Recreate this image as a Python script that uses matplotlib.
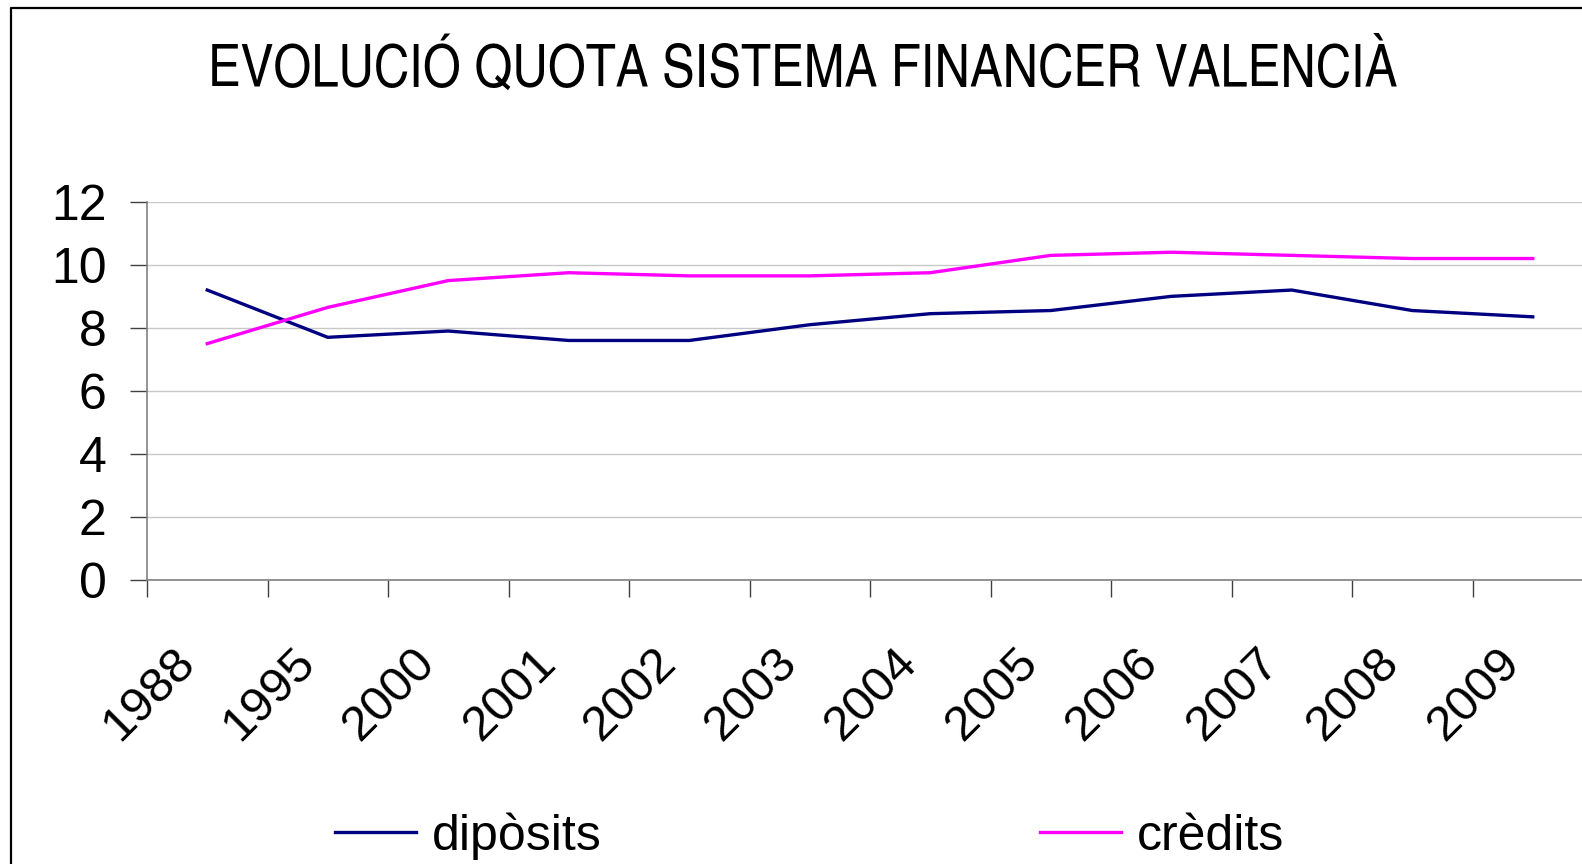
import matplotlib
matplotlib.use("Agg")
import matplotlib.pyplot as plt
import matplotlib.transforms as mtransforms
from matplotlib.lines import Line2D

years = ["1988", "1995", "2000", "2001", "2002", "2003", "2004", "2005", "2006", "2007", "2008", "2009"]
diposits = [9.2, 7.7, 7.9, 7.6, 7.6, 8.1, 8.45, 8.55, 9.0, 9.2, 8.55, 8.35]
credits = [7.5, 8.65, 9.5, 9.75, 9.65, 9.65, 9.75, 10.3, 10.4, 10.3, 10.2, 10.2]
yticks = [0, 2, 4, 6, 8, 10, 12]

title = "EVOLUCIÓ QUOTA SISTEMA FINANCER VALENCIÀ"
label_dip = "dipòsits"
label_cre = "crèdits"

plt.rcParams['font.family'] = ['Liberation Sans', 'DejaVu Sans']

W, H = 1582, 864
fig = plt.figure(figsize=(W / 100, H / 100), dpi=100)
fig.patch.set_facecolor("white")

# outer chart border (top and left visible)
fig.add_artist(Line2D([10.5 / W, 10.5 / W, 1.0], [0.0, 1 - 8 / H, 1 - 8 / H],
                      transform=fig.transFigure, color="black", lw=1.6))

left, right, top, bottom = 147, 1593, 201.8, 580
ax = fig.add_axes([left / W, 1 - bottom / H, (right - left) / W, (bottom - top) / H])

x = list(range(len(years)))
ax.plot(x, diposits, color="#000080", lw=2.4, label=label_dip, solid_joinstyle="round")
ax.plot(x, credits, color="#FF00FF", lw=2.4, label=label_cre, solid_joinstyle="round")

ax.set_xlim(-0.5, len(years) - 0.5)
ax.set_ylim(0, 12)
ax.set_yticks(yticks)
ax.set_yticklabels([str(v) for v in yticks])
ax.grid(axis="y", color="#c8c8c8", lw=1.0)
ax.set_axisbelow(True)

# major ticks at category boundaries, labels on minor ticks at centres
ax.set_xticks([i - 0.5 for i in range(len(years))])
ax.set_xticklabels([])
ax.set_xticks(x, minor=True)
ax.set_xticklabels(years, minor=True, rotation=45, ha="right", va="top", fontsize=35.5)
ax.tick_params(axis="x", which="major", direction="out", length=12, width=1.0, color="#404040")
ax.tick_params(axis="x", which="minor", length=0, pad=43)
ax.tick_params(axis="y", direction="out", length=12, width=1.0, color="#404040", labelsize=36, pad=17)

offset = mtransforms.ScaledTranslation(-4 / 100, 0, fig.dpi_scale_trans)
for lab in ax.get_xticklabels(minor=True):
    lab.set_transform(lab.get_transform() + offset)

for side in ("top", "right"):
    ax.spines[side].set_visible(False)
for side in ("left", "bottom"):
    ax.spines[side].set_color("#808080")
    ax.spines[side].set_linewidth(1.2)

fig.text(803 / W, 1 - 70 / H, title, ha="center", va="center", fontsize=43,
         family=["TeX Gyre Heros Cn", "Liberation Sans", "DejaVu Sans"])

fig.legend(loc="center left", bbox_to_anchor=(335 / W, 1 - 836 / H), ncol=2, frameon=False,
           fontsize=36, handlelength=1.62, handletextpad=0.32, columnspacing=8.76,
           borderpad=0, borderaxespad=0)

fig.savefig("out.png", dpi=100)
